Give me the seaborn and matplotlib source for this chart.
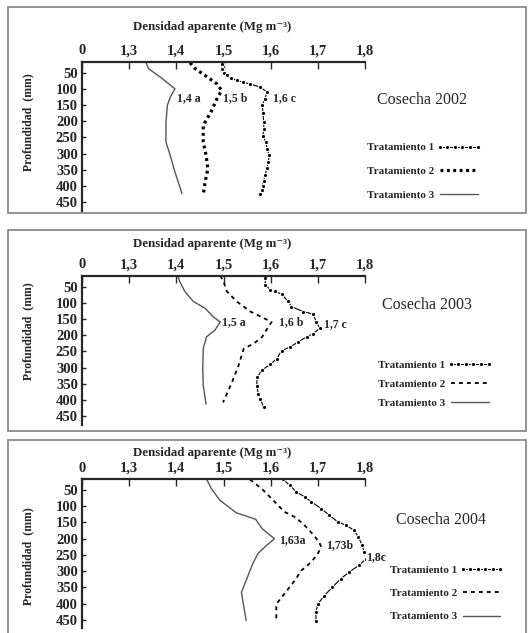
import matplotlib
matplotlib.use('Agg')
import matplotlib.pyplot as plt
import matplotlib.patches as patches
import seaborn as sns
import pandas as pd

sns.set_style('ticks')
plt.rcParams['font.family'] = ['Liberation Serif', 'DejaVu Serif']
plt.rcParams['font.weight'] = 'bold'

# Data: bulk density (Mg m-3) vs depth (mm)
# Cosecha 2002
t1_02_prof = [23, 38, 50, 59, 67, 74, 80, 85, 95, 110, 131, 151, 175, 203, 225, 244, 265, 285, 305, 326, 345, 367, 385, 398, 412, 423]
t1_02_dens = [1.496, 1.496, 1.500, 1.507, 1.516, 1.528, 1.542, 1.556, 1.578, 1.592, 1.588, 1.582, 1.584, 1.585, 1.586, 1.583, 1.590, 1.592, 1.597, 1.595, 1.592, 1.588, 1.585, 1.583, 1.581, 1.578]
t2_02_prof = [20, 38, 59, 85, 105, 131, 167, 213, 264, 305, 346, 387, 428]
t2_02_dens = [1.429, 1.440, 1.461, 1.486, 1.496, 1.486, 1.475, 1.457, 1.457, 1.463, 1.467, 1.461, 1.457]
t3_02_prof = [16, 38, 64, 100, 126, 151, 203, 264, 305, 356, 423]
t3_02_dens = [1.335, 1.341, 1.366, 1.397, 1.387, 1.381, 1.378, 1.378, 1.387, 1.397, 1.412]

# Cosecha 2003
t1_03_prof = [24, 45, 60, 65, 73, 96, 112, 127, 135, 159, 179, 195, 205, 221, 236, 248, 272, 290, 308, 329, 355, 381, 396, 422]
t1_03_dens = [1.588, 1.589, 1.599, 1.609, 1.623, 1.637, 1.644, 1.669, 1.690, 1.697, 1.704, 1.690, 1.676, 1.658, 1.641, 1.623, 1.613, 1.599, 1.581, 1.572, 1.570, 1.574, 1.578, 1.585]
t2_03_prof = [16, 34, 65, 96, 127, 145, 159, 179, 205, 226, 241, 293, 345, 407]
t2_03_dens = [1.493, 1.500, 1.507, 1.528, 1.557, 1.582, 1.602, 1.593, 1.582, 1.564, 1.543, 1.532, 1.518, 1.499]
t3_03_prof = [16, 34, 65, 96, 117, 143, 159, 184, 205, 241, 304, 355, 412]
t3_03_dens = [1.403, 1.407, 1.418, 1.436, 1.461, 1.478, 1.493, 1.482, 1.464, 1.457, 1.456, 1.457, 1.463]

# Cosecha 2004
t1_04_prof = [17, 35, 55, 71, 86, 107, 127, 148, 158, 174, 195, 220, 241, 261, 282, 303, 323, 349, 375, 401, 427, 452]
t1_04_dens = [1.626, 1.640, 1.654, 1.672, 1.686, 1.707, 1.724, 1.742, 1.759, 1.777, 1.786, 1.794, 1.798, 1.803, 1.787, 1.766, 1.749, 1.731, 1.714, 1.700, 1.696, 1.696]
t2_04_prof = [17, 50, 81, 117, 133, 153, 174, 210, 225, 246, 272, 298, 329, 370, 401, 453]
t2_04_dens = [1.556, 1.584, 1.605, 1.629, 1.651, 1.668, 1.682, 1.703, 1.707, 1.700, 1.686, 1.665, 1.651, 1.629, 1.612, 1.612]
t3_04_prof = [16, 45, 81, 120, 140, 169, 200, 226, 246, 277, 365, 452]
t3_04_dens = [1.464, 1.474, 1.492, 1.527, 1.568, 1.582, 1.608, 1.587, 1.573, 1.562, 1.538, 1.548]

x_ticks = [1.2, 1.3, 1.4, 1.5, 1.6, 1.7, 1.8]
x_labels = ['0', '1,3', '1,4', '1,5', '1,6', '1,7', '1,8']
y_ticks = [50, 100, 150, 200, 250, 300, 350, 400, 450]
names = ['Tratamiento 1', 'Tratamiento 2', 'Tratamiento 3']

panels = [
    dict(year='Cosecha 2002',
         series=[(t1_02_dens, t1_02_prof), (t2_02_dens, t2_02_prof), (t3_02_dens, t3_02_prof)],
         notes=[('1,4 a', 1.402, 128), ('1,5 b', 1.499, 128), ('1,6 c', 1.605, 128)],
         top=61.5, box=(8, 7, 526, 213), title_y=1.23, ylab_y=0.59,
         cos=(1.20, 0.74), leg=(1.007, 0.455), spacing=1.25, thick=True),
    dict(year='Cosecha 2003',
         series=[(t1_03_dens, t1_03_prof), (t2_03_dens, t2_03_prof), (t3_03_dens, t3_03_prof)],
         notes=[('1,5 a', 1.497, 161), ('1,6 b', 1.617, 161), ('1,7 c', 1.713, 167)],
         top=275.5, box=(8, 230, 526, 431), title_y=1.21, ylab_y=0.63,
         cos=(1.22, 0.80), leg=(1.046, 0.43), spacing=0.8, thick=False),
    dict(year='Cosecha 2004',
         series=[(t1_04_dens, t1_04_prof), (t2_04_dens, t2_04_prof), (t3_04_dens, t3_04_prof)],
         notes=[('1,63a', 1.617, 204), ('1,73b', 1.718, 219), ('1,8c', 1.803, 256)],
         top=479, box=(8, 440, 526, 640), title_y=1.175, ylab_y=0.48,
         cos=(1.27, 0.725), leg=(1.088, 0.42), spacing=1.2, thick=False),
]

W, H = 530, 633
fig = plt.figure(figsize=(W / 100, H / 100), dpi=100)

for p in panels:
    x0, y0, x1, y1 = p['box']
    fig.patches.append(patches.Rectangle((x0 / W, 1 - y1 / H), (x1 - x0) / W, (y1 - y0) / H,
                                         transform=fig.transFigure, fill=False,
                                         edgecolor='#8a8a8a', linewidth=1.3))

    ax = fig.add_axes([82 / W, 1 - (p['top'] + 149) / H, 283 / W, 149 / H])
    if p['thick']:
        t2_style = dict(color='black', lw=2.3, linestyle=(0, (0.9, 1.1)))
    else:
        t2_style = dict(color='black', lw=1.3, linestyle=(0, (2.2, 2.2)))
    styles = [dict(color='black', lw=0.8, marker='o', markersize=3.0),
              t2_style,
              dict(color='#555555', lw=1.0)]
    for (dens, prof), name, st in zip(p['series'], names, styles):
        df = pd.DataFrame({'dens': dens, 'prof': prof})
        sns.lineplot(data=df, x='dens', y='prof', sort=False, estimator=None,
                     ax=ax, label=name, **st)

    ax.set_xlim(1.2, 1.8)
    ax.set_ylim(475, 16)
    ax.xaxis.tick_top()
    ax.set_xticks(x_ticks)
    ax.set_xticklabels(x_labels)
    ax.set_yticks(y_ticks)
    ax.tick_params(axis='x', direction='in', length=5, width=1, pad=3, labelsize=10.5)
    ax.tick_params(axis='y', direction='in', length=3, width=1, pad=3, labelsize=10.5)
    for lab in ax.get_xticklabels() + ax.get_yticklabels():
        lab.set_fontweight('bold')
    for s in ['right', 'bottom']:
        ax.spines[s].set_visible(False)
    for s in ['top', 'left']:
        ax.spines[s].set_linewidth(1.6)

    ax.xaxis.set_label_position('top')
    ax.set_xlabel('Densidad aparente (Mg m⁻³)', fontsize=9.3, fontweight='bold')
    ax.xaxis.label.set_va('center')
    ax.xaxis.set_label_coords(0.46, p['title_y'])
    ax.set_ylabel('Profundidad  (mm)', fontsize=8.5, fontweight='bold')
    ax.yaxis.label.set_va('center')
    ax.yaxis.set_label_coords(-0.19, p['ylab_y'])

    for txt, xv, yv in p['notes']:
        ax.text(xv, yv, txt, fontsize=8.5, fontweight='bold', ha='left', va='center')

    ax.text(p['cos'][0], p['cos'][1], p['year'], transform=ax.transAxes,
            fontsize=11.5, fontweight='normal', ha='center', va='center', clip_on=False)

    ax.legend(loc='upper left', bbox_to_anchor=p['leg'], frameon=False,
              markerfirst=False, numpoints=6, handlelength=4.0, handletextpad=0.2,
              labelspacing=p['spacing'], borderpad=0, borderaxespad=0,
              prop={'size': 8, 'weight': 'bold'})

fig.savefig('out.png', dpi=100)
